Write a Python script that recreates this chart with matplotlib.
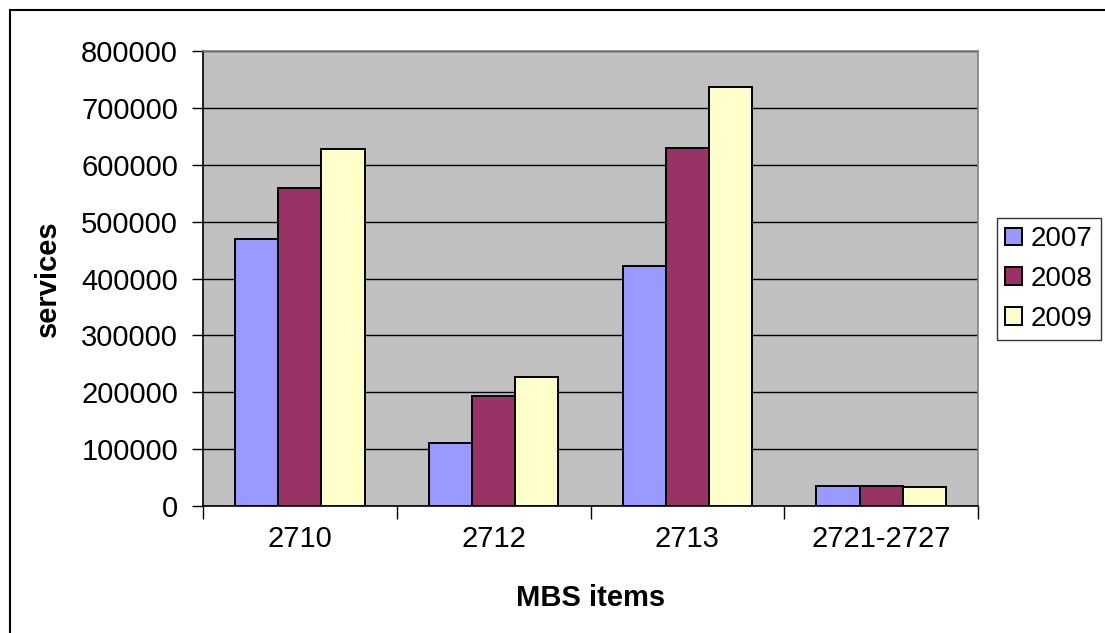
import matplotlib.pyplot as plt
import numpy as np
from matplotlib.lines import Line2D

plt.rcParams['font.family'] = ['Liberation Sans', 'DejaVu Sans']

categories = ["2710", "2712", "2713", "2721-2727"]
years = ["2007", "2008", "2009"]
services_2007 = [470000, 110000, 422000, 36000]
services_2008 = [559000, 193000, 630000, 36000]
services_2009 = [628000, 226000, 737000, 33000]
y_ticks = [0, 100000, 200000, 300000, 400000, 500000, 600000, 700000, 800000]

colors = ['#9999FF', '#993366', '#FFFFCC']
series = [services_2007, services_2008, services_2009]
fs = 21

fig = plt.figure(figsize=(11.05, 6.33), dpi=100)
ax = fig.add_axes([203 / 1105, 1 - 506 / 633, 775 / 1105, 455 / 633])
ax.set_facecolor('#C0C0C0')

x = np.arange(len(categories))
width = 0.223
for i, (vals, col) in enumerate(zip(series, colors)):
    ax.bar(x + (i - 1) * width, vals, width, color=col, edgecolor='black',
           linewidth=1.4, label=years[i], zorder=3)

ax.set_xlim(-0.5, len(categories) - 0.5)
ax.set_ylim(0, 800000)
ax.set_yticks(y_ticks)
ax.set_yticklabels([str(v) for v in y_ticks], fontsize=fs)
ax.yaxis.grid(True, color='black', linewidth=1.0, zorder=1)
ax.set_axisbelow(True)

# category ticks sit between groups, labels at group centres
ax.set_xticks(np.arange(len(categories) + 1) - 0.5)
ax.set_xticklabels([])
ax.set_xticks(x, minor=True)
ax.set_xticklabels(categories, minor=True, fontsize=fs)
ax.tick_params(axis='x', which='minor', length=0, pad=14)
ax.tick_params(axis='x', which='major', length=9, width=1, direction='out')
ax.tick_params(axis='y', length=8, width=1, direction='out', pad=10)

for side in ['top', 'right']:
    ax.spines[side].set_color('#808080')
    ax.spines[side].set_linewidth(1.2)
for side in ['left', 'bottom']:
    ax.spines[side].set_color('black')
    ax.spines[side].set_linewidth(1.2)

ax.set_xlabel("MBS items", fontsize=fs, fontweight='bold', labelpad=22)
ax.set_ylabel("services", fontsize=fs, fontweight='bold', labelpad=14)

leg = ax.legend(loc='center left', bbox_to_anchor=(997 / 1105, 1 - 279 / 633),
                bbox_transform=fig.transFigure, fontsize=20, frameon=True,
                fancybox=False, edgecolor='black', handlelength=0.6,
                handleheight=0.6, handletextpad=0.3, labelspacing=0.5,
                borderpad=0.3, borderaxespad=0)
leg.get_frame().set_linewidth(1.0)

# outer chart border (only top and left edges are visible)
fig.add_artist(Line2D([10 / 1105, 10 / 1105], [0, 1 - 10 / 633],
                      transform=fig.transFigure, color='black', linewidth=1.5))
fig.add_artist(Line2D([10 / 1105, 1], [1 - 10 / 633, 1 - 10 / 633],
                      transform=fig.transFigure, color='black', linewidth=1.5))

plt.savefig("out.png", dpi=100)
